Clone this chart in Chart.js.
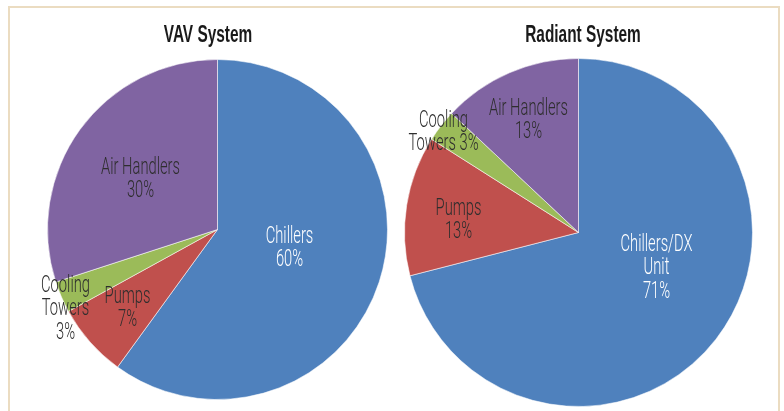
<!DOCTYPE html>
<html>
<head>
<meta charset="utf-8">
<script src="https://cdn.jsdelivr.net/npm/chart.js@4"></script>
<style>
  html, body { margin: 0; padding: 0; background: #fff; }
  body { width: 784px; height: 411px; position: relative; overflow: hidden; }
  .frame { position: absolute; left: 8px; top: 6px; width: 772px; height: 420px;
           border: 2.5px solid #ebdcc1; box-sizing: border-box; }
  .box { position: absolute; top: 0; width: 392px; height: 411px; }
  #left { left: 0; }
  #right { left: 392px; }
</style>
</head>
<body>
<div class="frame"></div>
<div class="box" id="left"><canvas id="vav"></canvas></div>
<div class="box" id="right"><canvas id="radiant"></canvas></div>
<script>
// data
const vavLabels = ['Chillers', 'Pumps', 'Cooling Towers', 'Air Handlers'];
const vavValues = [60, 7, 3, 30];
const radiantLabels = ['Chillers/DX Unit', 'Pumps', 'Cooling Towers', 'Air Handlers'];
const radiantValues = [71, 13, 3, 13];
const sliceColors = ['#4f81bd', '#c0504d', '#9bbb59', '#8064a2'];

// label text lines and where they sit (offset from pie centre, px)
const vavText = [
    { lines: ['Chillers', '60%'], dx: 72, dy: 19, color: '#fff' },
    { lines: ['Pumps', '7%'], dx: -90, dy: 79, color: '#2e2e2e' },
    { lines: ['Cooling', 'Towers', '3%'], dx: -152, dy: 80, color: '#2e2e2e' },
    { lines: ['Air Handlers', '30%'], dx: -77, dy: -50, color: '#2e2e2e' }
];
const radiantText = [
    { lines: ['Chillers/DX', 'Unit', '71%'], dx: 78, dy: 36, color: '#fff' },
    { lines: ['Pumps', '13%'], dx: -120, dy: -12, color: '#2e2e2e' },
    { lines: ['Cooling', 'Towers 3%'], dx: -135, dy: -100, color: '#2e2e2e' },
    { lines: ['Air Handlers', '13%'], dx: -50, dy: -112, color: '#2e2e2e' }
];

const condensed = 0.64;

const textPlugin = {
    id: 'sliceText',
    afterDraw(chart, args, opts) {
        const ctx = chart.ctx;
        const arc = chart.getDatasetMeta(0).data[0];
        const cx = arc.x, cy = arc.y;
        ctx.save();
        ctx.textAlign = 'center';
        ctx.textBaseline = 'middle';

        // title
        ctx.fillStyle = '#1a1a1a';
        ctx.font = 'bold 23px "Liberation Sans", Arial, sans-serif';
        ctx.save();
        ctx.translate(opts.titleX, 36);
        ctx.scale(0.67, 1);
        ctx.fillText(opts.title, 0, 0);
        ctx.restore();

        ctx.font = '300 23px Roboto, "Liberation Sans", sans-serif';
        opts.items.forEach(item => {
            ctx.fillStyle = item.color;
            const n = item.lines.length;
            item.lines.forEach((line, i) => {
                ctx.save();
                ctx.translate(cx + item.dx, cy + item.dy + (i - (n - 1) / 2) * 23.5);
                ctx.scale(condensed, 1);
                ctx.fillText(line, 0, 0);
                ctx.restore();
            });
        });
        ctx.restore();
    }
};

function drawPie(id, labels, values, items, title, titleX, padding) {
    new Chart(document.getElementById(id), {
        type: 'pie',
        data: {
            labels,
            datasets: [{
                data: values,
                backgroundColor: sliceColors,
                borderColor: 'rgba(255,255,255,0.55)',
                borderWidth: 1
            }]
        },
        options: {
            responsive: true,
            maintainAspectRatio: false,
            animation: false,
            layout: { padding },
            plugins: {
                legend: { display: false },
                tooltip: { enabled: false },
                sliceText: { items, title, titleX }
            }
        },
        plugins: [textPlugin]
    });
}

drawPie('vav', vavLabels, vavValues, vavText, 'VAV System', 208,
    { left: 47, right: 4, top: 59, bottom: 11 });
drawPie('radiant', radiantLabels, radiantValues, radiantText, 'Radiant System', 191,
    { left: 12, right: 31, top: 58, bottom: 4 });
</script>
</body>
</html>
